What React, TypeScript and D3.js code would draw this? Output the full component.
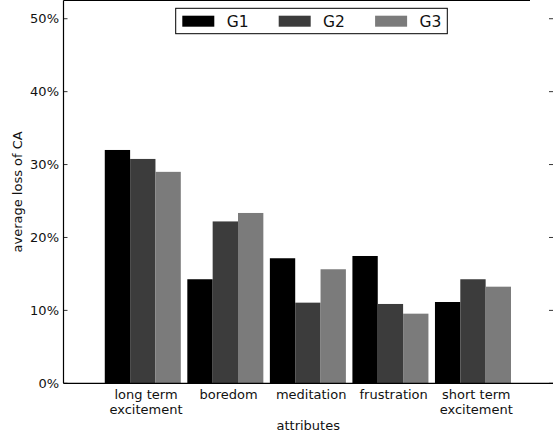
import React, { useEffect, useRef } from 'react';
import * as d3 from 'd3';

const categories = ['long term\nexcitement', 'boredom', 'meditation', 'frustration', 'short term\nexcitement'];
const seriesNames = ['G1', 'G2', 'G3'];
const seriesColors = ['#000000', '#3c3c3c', '#7b7b7b'];
const g1Values = [0.32, 0.1427, 0.1715, 0.1746, 0.1115];
const g2Values = [0.3077, 0.222, 0.1106, 0.1088, 0.1427];
const g3Values = [0.29, 0.2336, 0.1564, 0.0955, 0.1325];
const yTicks = [0, 0.1, 0.2, 0.3, 0.4, 0.5];

const W = 553;
const H = 435;

const App: React.FC = () => {
  const svgRef = useRef<SVGSVGElement>(null);

  useEffect(() => {
    if (!svgRef.current) return;
    const svg = d3.select(svgRef.current);
    svg.selectAll('*').remove();

    const left = 63.5;
    const right = 553;
    const bottom = 383.3;
    const top = 0.5;
    const barW = 0.307;
    const font = 'DejaVu Sans, sans-serif';

    const x = d3.scaleLinear().domain([-0.5, 5.43]).range([left, right]);
    const y = d3.scaleLinear().domain([0, 0.525]).range([bottom, top]);

    const series = [g1Values, g2Values, g3Values];

    // bars
    series.forEach((vals, j) => {
      svg.append('g')
        .selectAll('rect')
        .data(vals)
        .enter()
        .append('rect')
        .attr('x', (_, i) => x(i + j * barW))
        .attr('width', x(barW) - x(0))
        .attr('y', d => y(d))
        .attr('height', d => y(0) - y(d))
        .attr('fill', seriesColors[j]);
    });

    // spines
    svg.append('line').attr('x1', left).attr('x2', left).attr('y1', top).attr('y2', bottom)
      .attr('stroke', '#000').attr('stroke-width', 1.2);
    svg.append('line').attr('x1', left).attr('x2', right).attr('y1', bottom).attr('y2', bottom)
      .attr('stroke', '#000').attr('stroke-width', 1.2);
    svg.append('line').attr('x1', left).attr('x2', 530).attr('y1', top).attr('y2', top)
      .attr('stroke', '#000').attr('stroke-width', 1.2);

    // y ticks (inward, both sides)
    const yt = svg.append('g');
    yTicks.forEach(t => {
      yt.append('line').attr('x1', left).attr('x2', left + 4).attr('y1', y(t)).attr('y2', y(t))
        .attr('stroke', '#000').attr('stroke-width', 0.8);
      yt.append('line').attr('x1', right - 4).attr('x2', right).attr('y1', y(t)).attr('y2', y(t))
        .attr('stroke', '#000').attr('stroke-width', 0.8);
      yt.append('text')
        .attr('x', left - 4.5)
        .attr('y', y(t))
        .attr('dy', '0.36em')
        .attr('text-anchor', 'end')
        .attr('font-family', font)
        .attr('font-size', 13)
        .attr('fill', '#111')
        .text(d3.format('.0%')(t));
    });

    // x tick labels
    categories.forEach((c, i) => {
      const lines = c.split('\n');
      const txt = svg.append('text')
        .attr('x', x(i + 0.5))
        .attr('y', 399)
        .attr('text-anchor', 'middle')
        .attr('font-family', font)
        .attr('font-size', 13)
        .attr('fill', '#111');
      lines.forEach((l, k) => {
        txt.append('tspan').attr('x', x(i + 0.5)).attr('dy', k === 0 ? 0 : 15).text(l);
      });
    });

    // axis labels
    svg.append('text')
      .attr('x', (left + right) / 2)
      .attr('y', 430)
      .attr('text-anchor', 'middle')
      .attr('font-family', font)
      .attr('font-size', 13)
      .attr('fill', '#111')
      .text('attributes');
    svg.append('text')
      .attr('transform', `translate(22,${(top + bottom) / 2}) rotate(-90)`)
      .attr('text-anchor', 'middle')
      .attr('font-family', font)
      .attr('font-size', 13)
      .attr('fill', '#111')
      .text('average loss of CA');

    // legend
    const lg = svg.append('g');
    lg.append('rect').attr('x', 175.7).attr('y', 8.3).attr('width', 271.6).attr('height', 25.4)
      .attr('fill', '#fff').attr('stroke', '#000').attr('stroke-width', 1);
    seriesNames.forEach((n, j) => {
      const x0 = 182.3 + j * 96.4;
      lg.append('rect').attr('x', x0).attr('y', 15.7).attr('width', 32).attr('height', 11)
        .attr('fill', seriesColors[j]);
      lg.append('text')
        .attr('x', x0 + 44.4)
        .attr('y', 21.2)
        .attr('dy', '0.36em')
        .attr('font-family', font)
        .attr('font-size', 15.5)
        .attr('fill', '#111')
        .text(n);
    });
  }, []);

  return (
    <svg
      ref={svgRef}
      width={W}
      height={H}
      style={{ position: 'absolute', left: 0, top: 0, background: '#fff' }}
    />
  );
};

export default App;
